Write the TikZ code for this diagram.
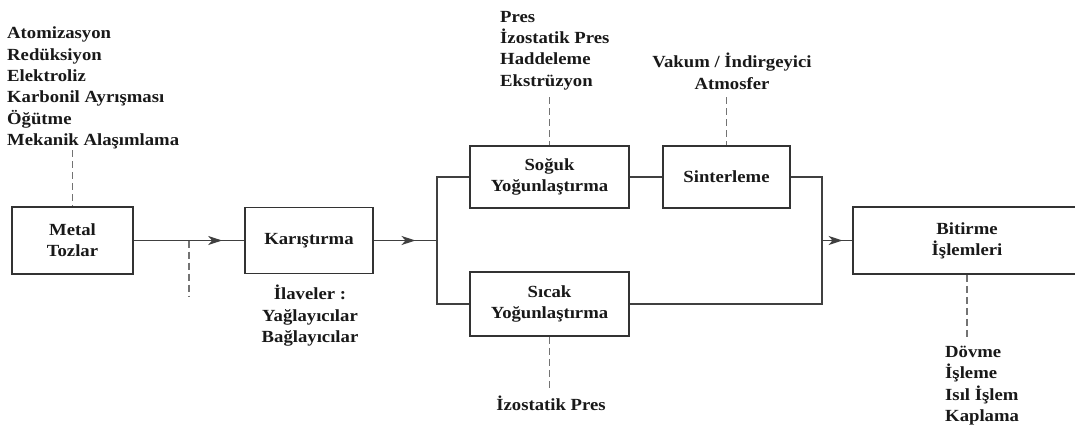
\documentclass[tikz,border=0pt]{standalone}
\usepackage{fontspec}
\setmainfont{Liberation Serif}[FakeStretch=1.1]
\usetikzlibrary{arrows.meta,decorations.markings}
\begin{document}
\begin{tikzpicture}[x=1pt,y=-1pt,
  every node/.style={font=\bfseries\fontsize{17}{21.3}\selectfont, text=black!90},
  box/.style={draw=black!80, line width=1.5pt, inner sep=0pt, align=center},
  conn/.style={draw=black!75, line width=1.4pt},
  dashln/.style={draw=black!55, line width=1.4pt, dash pattern=on 7pt off 4pt},
  lbl/.style={inner sep=0pt},
  midarrow/.style={decoration={markings, mark=at position #1 with {\arrow{Stealth[length=14pt,width=9pt,inset=4pt]}}}, postaction=decorate}
]
\useasboundingbox (0,0) rectangle (1075,431);
\clip (0,0) rectangle (1075,431);
\fill[white] (0,0) rectangle (1075,431);

% boxes
\node[box, minimum width=121pt, minimum height=67pt] (mt) at (72.5,240.5) {Metal\\Tozlar};
\node[box, minimum width=128pt, minimum height=66pt] (kr) at (309,240.5) {Karıştırma};
\node[box, minimum width=159pt, minimum height=62pt] (sg) at (549.5,177) {Soğuk\\Yoğunlaştırma};
\node[box, minimum width=127pt, minimum height=62pt] (sn) at (726.5,177) {Sinterleme};
\node[box, minimum width=159pt, minimum height=64pt] (sc) at (549.5,304) {Sıcak\\Yoğunlaştırma};
\node[box, minimum width=228pt, minimum height=67pt] (bt) at (967,240.5) {Bitirme\\İşlemleri};

% junctions
\coordinate (j1) at (437,240.5);
\coordinate (j2) at (822,240.5);

% connectors
\draw[conn, midarrow=0.80] (mt.east) -- (kr.west);
\draw[conn, midarrow=0.66] (kr.east) -- (j1);
\draw[conn] (sg.west) -| (j1);
\draw[conn] (sc.west) -| (j1);
\draw[conn, line width=1.9pt] (sg.east) -- (sn.west);
\draw[conn] (sn.east) -| (j2);
\draw[conn] (sc.east) -| (j2);
\draw[conn, midarrow=0.68] (j2) -- (bt.west);

% labels
\node[lbl, anchor=north west, align=left] (src) at (7,27) {Atomizasyon\\Redüksiyon\\Elektroliz\\Karbonil Ayrışması\\Öğütme\\Mekanik Alaşımlama};
\node[lbl, anchor=north, align=center] (add) at (310,285) {İlaveler :\\Yağlayıcılar\\Bağlayıcılar};
\node[lbl, anchor=north west, align=left] (cold) at (500,11) {Pres\\İzostatik Pres\\Haddeleme\\Ekstrüzyon};
\node[lbl, anchor=north, align=center] (atm) at (732,53) {Vakum / İndirgeyici\\Atmosfer};
\node[lbl, anchor=north, align=center] (hot) at (551,396) {İzostatik Pres};
\node[lbl, anchor=north west, align=left] (fin) at (945,346) {Dövme\\İşleme\\Isıl İşlem\\Kaplama};

% dashed connectors
\coordinate (dmt) at (72.5,150);
\coordinate (dadd0) at (189,240.5);
\coordinate (dadd1) at (189,297);
\coordinate (dsg) at (549.5,97);
\coordinate (dsn) at (726.5,97);
\coordinate (dsc) at (549.5,390);
\coordinate (dbt) at (967,340);
\draw[dashln] (dmt) -- (mt.north);
\draw[dashln] (dadd0) -- (dadd1);
\draw[dashln] (dsg) -- (sg.north);
\draw[dashln] (dsn) -- (sn.north);
\draw[dashln] (sc.south) -- (dsc);
\draw[dashln] (bt.south) -- (dbt);
\end{tikzpicture}
\end{document}
